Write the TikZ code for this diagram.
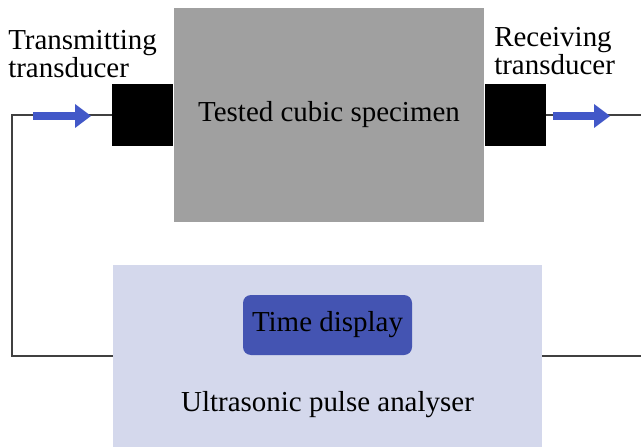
\documentclass[tikz,border=0pt]{standalone}
\usepackage{fontspec}
\setmainfont{Liberation Serif}
\usepackage{tikz}
\usetikzlibrary{arrows.meta,positioning}
\definecolor{specgray}{RGB}{160,160,160}
\definecolor{panelblue}{RGB}{212,216,236}
\definecolor{screenblue}{RGB}{68,84,178}
\definecolor{pulseblue}{RGB}{66,88,200}

\begin{document}
\begin{tikzpicture}[
    every node/.style={font=\fontsize{20.6}{19.9}\selectfont},
    specimen/.style={fill=specgray, minimum width=7.75cm, minimum height=5.35cm},
    transducer/.style={fill=black, minimum width=1.525cm, minimum height=1.55cm, inner sep=0pt},
    analyser/.style={fill=panelblue, minimum width=10.725cm, minimum height=4.55cm},
    screen/.style={fill=screenblue, rounded corners=0.2cm, minimum width=4.225cm, minimum height=1.5cm},
    tag/.style={align=left, inner sep=0pt},
    wire/.style={draw=black!75, line width=1.4pt},
    pulse/.style={pulseblue, line width=0.2cm, -{Triangle[length=0.4cm, width=0.6cm, line width=0pt]}}
]
    \useasboundingbox (0,0) rectangle (16.025,-11.175);

    % specimen with the two transducers
    \node[specimen] (spec) at (8.225,-2.875) {Tested cubic specimen};
    \node[transducer, left=0pt of spec.west] (tx) {};
    \node[transducer, right=0pt of spec.east] (rx) {};

    \node[tag, anchor=west] (txlabel) at (0.2,-1.35) {Transmitting\\transducer};
    \node[tag, anchor=west] (rxlabel) at (12.35,-1.275) {Receiving\\transducer};

    % analyser unit
    \node[analyser] (pua) at (8.1875,-8.9) {};
    \node[screen] (disp) at (8.1875,-8.125) {Time display};
    \node (puatext) at (8.1875,-10.125) {Ultrasonic pulse analyser};

    % cabling
    \draw[wire] (tx.west) -- ++(-2.5,0) |- (pua.west);
    \draw[wire] (rx.east) -- ++(2.7,0) |- (pua.east);

    % pulse direction
    \coordinate (txtail) at (0.825,-2.9);
    \coordinate (txhead) at (2.275,-2.9);
    \coordinate (rxtail) at (13.825,-2.9);
    \coordinate (rxhead) at (15.25,-2.9);
    \draw[pulse] (txtail) -- (txhead);
    \draw[pulse] (rxtail) -- (rxhead);
\end{tikzpicture}
\end{document}
